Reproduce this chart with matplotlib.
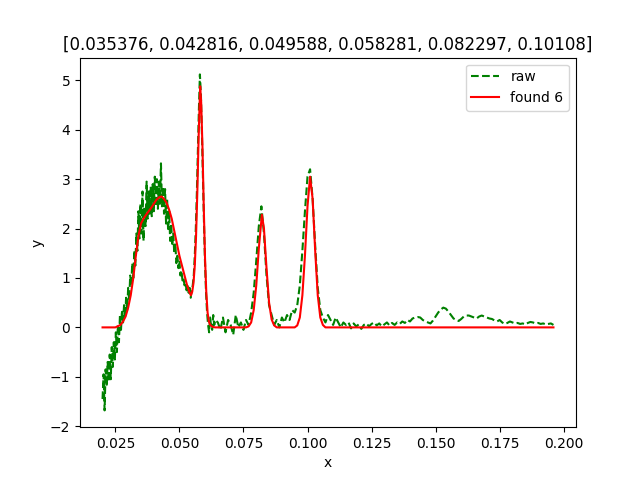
import numpy as np
import matplotlib
matplotlib.use("Agg")
import matplotlib.pyplot as plt

peaks = [0.035376, 0.042816, 0.049588, 0.058281, 0.082297, 0.10108]

# raw signal, first part sampled every 0.0004 from 0.020 to 0.064
raw_y_a = [-1.45, -0.95, -1.68, -0.85, -1.20, -0.70, -1.10, -0.55, -1.05, -0.40,
           -0.80, -0.30, -0.65, -0.10, -0.50, 0.05, -0.30, 0.25, -0.05, 0.35,
           0.10, 0.45, 0.20, 0.60, 0.35, 0.80, 0.55, 1.05, 0.85, 1.30,
           1.00, 1.55, 1.25, 1.90, 1.55, 2.35, 1.80, 2.50, 1.90, 2.75,
           1.75, 2.45, 2.05, 2.95, 2.20, 2.75, 2.30, 2.85, 2.25, 2.90,
           2.35, 3.05, 2.45, 3.00, 2.40, 2.95, 2.50, 3.32, 2.45, 2.85,
           2.30, 2.80, 2.10, 2.60, 1.95, 2.35, 1.75, 2.10, 1.65, 1.90,
           1.50, 1.70, 1.30, 1.45, 1.20, 1.35, 1.05, 1.15, 0.95, 1.00,
           0.85, 0.90, 0.75, 0.85, 0.70, 0.80, 0.60, 0.75, 0.85, 1.05,
           1.45, 2.00, 2.70, 3.55, 4.40, 5.12, 4.70, 3.90, 2.95, 2.10,
           1.30, 0.70, 0.30, 0.05, -0.10, 0.20, 0.00, -0.05, 0.25, 0.05,
           0.15]
# second part sampled every 0.001 from 0.065 to 0.196
raw_y_b = [0.10, -0.05, 0.20, -0.10, 0.15, 0.05, -0.15, 0.25, 0.00, 0.10,
           -0.05, 0.15, 0.05, 0.30, 0.70, 1.35, 2.05, 2.45, 1.90, 1.05,
           0.45, 0.25, 0.05, 0.15, 0.00, 0.20, 0.10, 0.25, 0.15, 0.35,
           0.30, 0.45, 0.85, 1.55, 2.35, 3.05, 3.20, 2.60, 1.65, 0.80,
           0.35, 0.20, 0.10, 0.25, 0.15, 0.05, 0.20, 0.10, 0.00, 0.10,
           0.05, 0.10, -0.02, 0.08, 0.02, 0.06, -0.03, 0.05, 0.08, 0.02,
           0.07, 0.10, 0.04, 0.08, 0.02, 0.06, 0.10, 0.04, 0.09, 0.05,
           0.10, 0.07, 0.12, 0.09, 0.15, 0.12, 0.18, 0.20, 0.21, 0.20,
           0.15, 0.12, 0.10, 0.08, 0.14, 0.22, 0.30, 0.36, 0.40, 0.38,
           0.32, 0.25, 0.18, 0.15, 0.13, 0.17, 0.22, 0.24, 0.24, 0.22,
           0.20, 0.18, 0.22, 0.24, 0.22, 0.20, 0.18, 0.17, 0.14, 0.12,
           0.15, 0.10, 0.07, 0.09, 0.12, 0.10, 0.08, 0.09, 0.07, 0.08,
           0.06, 0.09, 0.11, 0.10, 0.08, 0.09, 0.07, 0.08, 0.06, 0.07,
           0.08, 0.05]

raw_x = np.concatenate([np.linspace(0.020, 0.064, len(raw_y_a)),
                        np.linspace(0.065, 0.196, len(raw_y_b))])
raw_y = np.array(raw_y_a + raw_y_b)

# fitted curve (sum of peaks)
fit_x = [0.020, 0.025, 0.027, 0.028, 0.029, 0.030, 0.031, 0.032, 0.033, 0.034,
         0.035, 0.036, 0.037, 0.038, 0.039, 0.040, 0.041, 0.042, 0.043, 0.044,
         0.045, 0.046, 0.047, 0.048, 0.049, 0.050, 0.051, 0.052, 0.053, 0.054,
         0.0545, 0.055, 0.0555, 0.056, 0.0565, 0.057, 0.0575, 0.0581, 0.0585, 0.059,
         0.0595, 0.060, 0.0605, 0.061, 0.0615, 0.062, 0.063, 0.064, 0.076, 0.077,
         0.078, 0.079, 0.080, 0.081, 0.0822, 0.083, 0.084, 0.085, 0.086, 0.087,
         0.088, 0.095, 0.096, 0.097, 0.098, 0.099, 0.100, 0.101, 0.102, 0.103,
         0.104, 0.105, 0.106, 0.107, 0.196]
fit_y = [0.0, 0.0, 0.05, 0.12, 0.22, 0.40, 0.65, 1.00, 1.45, 1.85,
         2.10, 2.20, 2.28, 2.35, 2.42, 2.50, 2.58, 2.63, 2.65, 2.60,
         2.52, 2.38, 2.20, 1.95, 1.70, 1.45, 1.25, 1.05, 0.85, 0.70,
         0.65, 0.72, 0.90, 1.25, 1.85, 2.75, 3.85, 4.88, 4.55, 3.65,
         2.45, 1.40, 0.70, 0.30, 0.12, 0.05, 0.01, 0.0, 0.0, 0.02,
         0.10, 0.35, 0.85, 1.60, 2.28, 2.00, 1.20, 0.50, 0.16, 0.04,
         0.0, 0.0, 0.04, 0.20, 0.65, 1.45, 2.45, 3.05, 2.60, 1.55,
         0.65, 0.20, 0.05, 0.0, 0.0]

fig, ax = plt.subplots(figsize=(6.4, 4.8), dpi=100)
ax.plot(raw_x, raw_y, 'g--', label='raw')
ax.plot(fit_x, fit_y, 'r-', label='found %d' % len(peaks))
ax.set_xlabel('x')
ax.set_ylabel('y')
ax.set_title('[' + ', '.join(str(p) for p in peaks) + ']')
ax.legend(loc='upper right')
fig.savefig('out.png')
